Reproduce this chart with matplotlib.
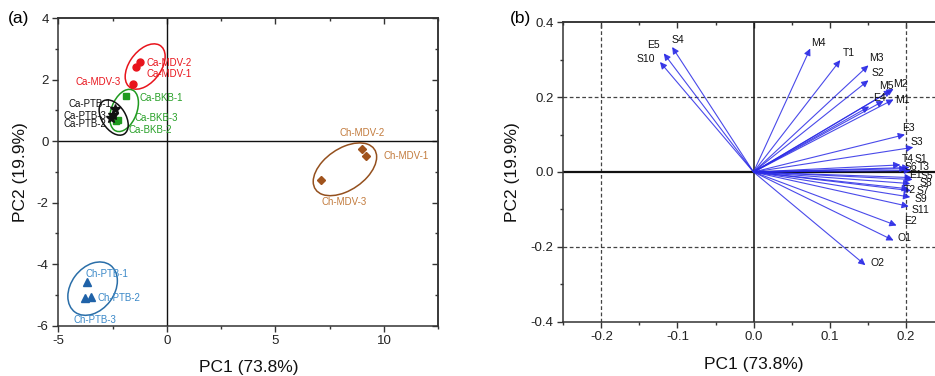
import matplotlib
matplotlib.use("Agg")
import matplotlib.pyplot as plt
from matplotlib.patches import Circle
from matplotlib.transforms import Affine2D
from matplotlib.ticker import MultipleLocator, FormatStrFormatter

plt.rcParams['font.family'] = ['Liberation Sans', 'DejaVu Sans']
plt.rcParams['axes.unicode_minus'] = False

# ---------------- Panel (a): scores ----------------
groups = ["Ca-MDV", "Ca-BKB", "Ca-PTB", "Ch-MDV", "Ch-PTB"]
score_x = {
    "Ca-MDV": [-1.42, -1.23, -1.57],
    "Ca-BKB": [-1.88, -2.34, -2.23],
    "Ca-PTB": [-2.39, -2.57, -2.49],
    "Ch-MDV": [9.15, 9.00, 7.12],
    "Ch-PTB": [-3.66, -3.51, -3.77],
}
score_y = {
    "Ca-MDV": [2.40, 2.59, 1.85],
    "Ca-BKB": [1.47, 0.66, 0.69],
    "Ca-PTB": [1.04, 0.74, 0.85],
    "Ch-MDV": [-0.49, -0.26, -1.27],
    "Ch-PTB": [-4.58, -5.07, -5.11],
}
# sample labels (1, 2, 3) and their positions
label_x = {
    "Ca-MDV": [-0.92, -0.92, -2.12],
    "Ca-BKB": [-1.26, -1.77, -1.49],
    "Ca-PTB": [-2.54, -2.80, -2.77],
    "Ch-MDV": [9.97, 9.00, 8.18],
    "Ch-PTB": [-3.77, -3.20, -3.31],
}
label_y = {
    "Ca-MDV": [2.19, 2.56, 1.92],
    "Ca-BKB": [1.40, 0.36, 0.74],
    "Ca-PTB": [1.20, 0.55, 0.82],
    "Ch-MDV": [-0.49, 0.25, -1.99],
    "Ch-PTB": [-4.33, -5.09, -5.83],
}
label_ha = {
    "Ca-MDV": ["left", "left", "right"],
    "Ca-BKB": ["left", "left", "left"],
    "Ca-PTB": ["right", "right", "right"],
    "Ch-MDV": ["left", "center", "center"],
    "Ch-PTB": ["left", "left", "center"],
}
# confidence ellipses: centre and two conjugate semi-diameters (data units)
ell_center = {"Ca-MDV": (-1.0, 2.43), "Ca-BKB": (-1.97, 1.0), "Ca-PTB": (-2.45, 0.77),
              "Ch-MDV": (8.2, -0.915), "Ch-PTB": (-3.42, -4.80)}
ell_u = {"Ca-MDV": (0.92, 0.33), "Ca-BKB": (0.66, 0.25), "Ca-PTB": (0.67, -0.245),
         "Ch-MDV": (1.46, 0.40), "Ch-PTB": (1.14, 0.255)}
ell_v = {"Ca-MDV": (0.0, 0.66), "Ca-BKB": (0.0, 0.64), "Ca-PTB": (0.0, 0.52),
         "Ch-MDV": (0.0, 0.76), "Ch-PTB": (0.0, 0.83)}

marker = {"Ca-MDV": "o", "Ca-BKB": "s", "Ca-PTB": "*", "Ch-MDV": "D", "Ch-PTB": "^"}
msize = {"Ca-MDV": 5, "Ca-BKB": 5, "Ca-PTB": 7, "Ch-MDV": 4.5, "Ch-PTB": 5.5}
mcolor = {"Ca-MDV": "#e8141c", "Ca-BKB": "#1f9a1f", "Ca-PTB": "#111111",
          "Ch-MDV": "#a0531c", "Ch-PTB": "#1f62a8"}
ecolor = {"Ca-MDV": "#e8141c", "Ca-BKB": "#1f9a1f", "Ca-PTB": "#111111",
          "Ch-MDV": "#94501e", "Ch-PTB": "#2a6ea8"}
tcolor = {"Ca-MDV": "#e8141c", "Ca-BKB": "#27a027", "Ca-PTB": "#111111",
          "Ch-MDV": "#c27a3c", "Ch-PTB": "#3a88c8"}

# ---------------- Panel (b): loadings ----------------
load_names = ["S4", "E5", "S10", "M4", "T1", "M3", "S2", "M5", "M2", "M1", "E4", "",
              "E3", "S3", "T4", "S1", "S6", "T3", "E1", "S5", "S8", "T2", "S7",
              "S9", "S11", "E2", "O1", "O2"]
load_x = [-0.107, -0.118, -0.123, 0.0745, 0.114, 0.151, 0.151, 0.181, 0.184, 0.184,
          0.171, 0.152, 0.199, 0.210, 0.193, 0.205, 0.201, 0.207, 0.208, 0.209,
          0.206, 0.204, 0.207, 0.206, 0.204, 0.188, 0.184, 0.147]
load_y = [0.334, 0.317, 0.294, 0.330, 0.299, 0.285, 0.245, 0.218, 0.222, 0.194,
          0.190, 0.175, 0.100, 0.066, 0.019, 0.012, 0.009, 0.004, -0.015, -0.020,
          -0.031, -0.045, -0.050, -0.067, -0.092, -0.143, -0.183, -0.249]
name_x = [-0.100, -0.131, -0.142, 0.085, 0.125, 0.162, 0.163, 0.174, 0.193, 0.196,
          0.165, 0.0, 0.203, 0.215, 0.203, 0.220, 0.207, 0.224, 0.213, 0.228,
          0.226, 0.206, 0.222, 0.220, 0.220, 0.206, 0.199, 0.163]
name_y = [0.354, 0.340, 0.302, 0.345, 0.318, 0.305, 0.265, 0.229, 0.235, 0.193,
          0.198, 0.0, 0.118, 0.080, 0.036, 0.036, 0.013, 0.013, -0.008, -0.012,
          -0.030, -0.047, -0.052, -0.071, -0.101, -0.132, -0.176, -0.243]

W, H = 935, 376
fig = plt.figure(figsize=(W / 100, H / 100), dpi=100)
ax1 = fig.add_axes([58.3 / W, 1 - 325.5 / H, 380 / W, 307.2 / H])
ax2 = fig.add_axes([563.3 / W, 1 - 321.7 / H, 380.5 / W, 299.4 / H])

spine_c = "#333333"
tick_c = "#222222"


def style_axes(ax, xmaj, xmin, ymaj, ymin):
    for s in ax.spines.values():
        s.set_color(spine_c)
        s.set_linewidth(1.1)
    ax.xaxis.set_major_locator(MultipleLocator(xmaj))
    ax.xaxis.set_minor_locator(MultipleLocator(xmin))
    ax.yaxis.set_major_locator(MultipleLocator(ymaj))
    ax.yaxis.set_minor_locator(MultipleLocator(ymin))
    ax.tick_params(which="major", direction="out", length=4, width=1.0,
                   color=spine_c, labelsize=9.5, labelcolor=tick_c, pad=3)
    ax.tick_params(which="minor", direction="out", length=2.5, width=1.0, color=spine_c)
    sx = ax.secondary_xaxis("top")
    sx.xaxis.set_major_locator(MultipleLocator(xmaj))
    sx.xaxis.set_minor_locator(MultipleLocator(xmin))
    sx.tick_params(which="both", direction="in", labeltop=False, color=spine_c, width=1.0)
    sx.tick_params(which="major", length=4)
    sx.tick_params(which="minor", length=2.5)
    sx.spines["top"].set_linewidth(1.1)
    sx.spines["top"].set_color(spine_c)
    sy = ax.secondary_yaxis("right")
    sy.yaxis.set_major_locator(MultipleLocator(ymaj))
    sy.yaxis.set_minor_locator(MultipleLocator(ymin))
    sy.tick_params(which="both", direction="in", labelright=False, color=spine_c, width=1.0)
    sy.tick_params(which="major", length=4)
    sy.tick_params(which="minor", length=2.5)
    sy.spines["right"].set_linewidth(1.1)
    sy.spines["right"].set_color(spine_c)


# ---- panel a
ax1.set_xlim(-5, 12.5)
ax1.set_ylim(-6, 4)
ax1.axhline(0, color="#111111", lw=1.0, zorder=1)
ax1.axvline(0, color="#111111", lw=1.0, zorder=1)
for g in groups:
    cx, cy = ell_center[g]
    ux, uy = ell_u[g]
    vx, vy = ell_v[g]
    circ = Circle((0, 0), 1, fill=False, ec=ecolor[g], lw=1.1,
                  transform=Affine2D.from_values(ux, uy, vx, vy, cx, cy) + ax1.transData,
                  zorder=2)
    ax1.add_patch(circ)
    ax1.plot(score_x[g], score_y[g], ls="none", marker=marker[g], ms=msize[g],
             color=mcolor[g], mec=mcolor[g], zorder=3)
    for i in range(3):
        ax1.text(label_x[g][i], label_y[g][i], f"{g}-{i + 1}", color=tcolor[g],
                 fontsize=7, ha=label_ha[g][i], va="center", zorder=4)
style_axes(ax1, 5, 2.5, 2, 1)
ax1.set_xlabel("PC1 (73.8%)", fontsize=12.5, color="#111111", labelpad=9)
ax1.set_ylabel("PC2 (19.9%)", fontsize=12.5, color="#111111", labelpad=6)
fig.text(8 / W, 1 - 18 / H, "(a)", fontsize=12.5, va="center", ha="left")

# ---- panel b
ax2.set_xlim(-0.25, 0.25)
ax2.set_ylim(-0.4, 0.4)
for v in (-0.2, 0.2):
    ax2.axvline(v, color="#444444", lw=0.9, ls=(0, (3, 2)), zorder=1)
    ax2.axhline(v, color="#444444", lw=0.9, ls=(0, (3, 2)), zorder=1)
ax2.axhline(0, color="#111111", lw=1.6, zorder=1)
ax2.axvline(0, color="#111111", lw=1.1, zorder=1)
arrow_c = "#2a2ae6"
for nm, x, y, tx, ty in zip(load_names, load_x, load_y, name_x, name_y):
    ax2.annotate("", xy=(x, y), xytext=(0, 0),
                 arrowprops=dict(arrowstyle="-|>", color=arrow_c, lw=0.8,
                                 mutation_scale=10, shrinkA=0, shrinkB=0, alpha=0.85),
                 zorder=3)
    if nm:
        ax2.text(tx, ty, nm, fontsize=7.5, color="#111111", ha="center", va="center",
                 zorder=4)
style_axes(ax2, 0.1, 0.05, 0.2, 0.1)
ax2.xaxis.set_major_formatter(FormatStrFormatter("%.1f"))
ax2.yaxis.set_major_formatter(FormatStrFormatter("%.1f"))
ax2.set_xlabel("PC1 (73.8%)", fontsize=12.5, color="#111111", labelpad=10)
ax2.set_ylabel("PC2 (19.9%)", fontsize=12.5, color="#111111", labelpad=8)
fig.text(510 / W, 1 - 18 / H, "(b)", fontsize=12.5, va="center", ha="left")

fig.savefig("out.png", dpi=100)
